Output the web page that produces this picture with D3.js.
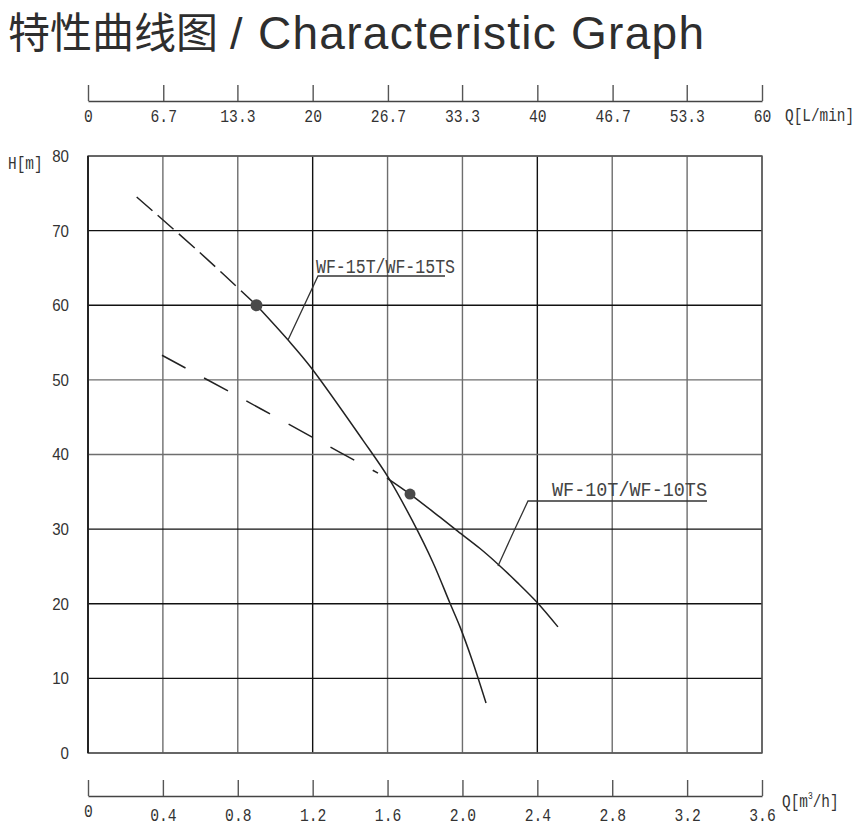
<!DOCTYPE html>
<html>
<head>
<meta charset="utf-8">
<script src="https://cdn.jsdelivr.net/npm/d3@7/dist/d3.min.js"></script>
<style>
  html, body { margin: 0; padding: 0; background: #fff; }
  svg { display: block; }
</style>
</head>
<body>
<svg id="chart" width="861" height="834"></svg>
<script>
// ---------------- data ----------------
const titleCN = "特性曲线图";
const titleEN = "Characteristic Graph";

const flowM3hTicks = [0, 0.4, 0.8, 1.2, 1.6, 2.0, 2.4, 2.8, 3.2, 3.6];
const flowM3hLabels = ["0", "0.4", "0.8", "1.2", "1.6", "2.0", "2.4", "2.8", "3.2", "3.6"];
const flowLminTicks = [0, 6.7, 13.3, 20, 26.7, 33.3, 40, 46.7, 53.3, 60];
const flowLminLabels = ["0", "6.7", "13.3", "20", "26.7", "33.3", "40", "46.7", "53.3", "60"];
const headTicks = [0, 10, 20, 30, 40, 50, 60, 70, 80];

// WF-15T / WF-15TS : [Q m3/h, H m]
const curve15Dashed = [[0.26, 74.5], [0.6, 67.0], [0.9, 60.0]];
const curve15Solid = [[0.9, 60.0], [1.07, 55.3], [1.19, 51.7], [1.469, 41.9], [1.602, 37.0],
  [1.731, 31.2], [1.843, 25.5], [1.933, 20.1], [1.987, 16.9], [2.051, 12.5], [2.126, 6.7]];
const point15 = [0.9, 60.0];

// WF-10T / WF-10TS
const curve10Dashed = [[0.395, 53.3], [0.8, 47.8], [1.2, 42.3], [1.549, 37.5]];
const curve10Solid = [[1.597, 36.85], [1.72, 34.7], [1.88, 31.6], [1.976, 29.7], [2.094, 27.4],
  [2.19, 25.3], [2.291, 22.9], [2.398, 20.2], [2.51, 16.9]];
const point10 = [1.72, 34.7];

const label15 = "WF-15T/WF-15TS";
const label10 = "WF-10T/WF-10TS";

const darkGridX = [0, 1.2, 2.4];
const darkGridY = [70, 60, 30, 20, 10];

// ---------------- layout ----------------
const L = 88, R = 762, T = 156, B = 753;
const svg = d3.select("#chart");

const x = d3.scaleLinear().domain([0, 3.6]).range([L, R]);
const xL = d3.scaleLinear().domain([0, 60]).range([L, R]);
const y = d3.scaleLinear().domain([0, 80]).range([B, T]);

const monoFont = "'Liberation Mono', 'DejaVu Sans Mono', monospace";
const textColor = "#333";

// ---------------- title ----------------
svg.append("text").attr("x", 8).attr("y", 48).attr("fill", "#2e2e2e")
  .attr("font-family", "'Noto Sans CJK SC', sans-serif").attr("font-size", 42)
  .text(titleCN);
svg.append("text").attr("x", 230).attr("y", 49).attr("fill", "#2e2e2e")
  .attr("font-family", "'Liberation Sans', Arial, sans-serif").attr("font-size", 45)
  .text("/");
svg.append("text").attr("x", 258).attr("y", 49).attr("fill", "#2e2e2e")
  .attr("font-family", "'Liberation Sans', Arial, sans-serif").attr("font-size", 46)
  .attr("textLength", 446).attr("lengthAdjust", "spacing")
  .text(titleEN);

// ---------------- grid ----------------
const grid = svg.append("g");
grid.selectAll("line.v").data(flowM3hTicks).join("line")
  .attr("x1", d => x(d)).attr("x2", d => x(d)).attr("y1", T).attr("y2", B)
  .attr("stroke", d => darkGridX.includes(d) ? "#111" : "#6e6e6e")
  .attr("stroke-width", 1.4);
grid.selectAll("line.h").data(headTicks).join("line")
  .attr("x1", L).attr("x2", R).attr("y1", d => y(d)).attr("y2", d => y(d))
  .attr("stroke", d => darkGridY.includes(d) ? "#111" : "#6e6e6e")
  .attr("stroke-width", 1.4);

// ---------------- axes ----------------
function styleAxis(g, charW) {
  g.select(".domain").attr("stroke", "#444").attr("stroke-width", 1.4);
  g.selectAll(".tick line").attr("stroke", "#555").attr("stroke-width", 1.4);
  g.selectAll(".tick text")
    .attr("fill", textColor)
    .attr("font-family", monoFont)
    .attr("font-size", 19)
    .attr("textLength", function () { return this.textContent.length * charW; })
    .attr("lengthAdjust", "spacingAndGlyphs");
}

// top axis (L/min)
const topAxis = svg.append("g").attr("transform", `translate(0,101)`)
  .call(d3.axisBottom(xL).tickValues(flowLminTicks)
    .tickFormat((d, i) => flowLminLabels[i])
    .tickSizeInner(-16).tickSizeOuter(0).tickPadding(8));
styleAxis(topAxis, 8.8);

// bottom axis (m3/h)
const botAxis = svg.append("g").attr("transform", `translate(0,796)`)
  .call(d3.axisBottom(x).tickValues(flowM3hTicks)
    .tickFormat((d, i) => flowM3hLabels[i])
    .tickSizeInner(-16).tickSizeOuter(0).tickPadding(12));
styleAxis(botAxis, 8.8);
botAxis.selectAll(".tick text").filter((d, i) => i === 0).attr("y", 8);

// left axis (H)
const leftAxis = svg.append("g").attr("transform", `translate(${L},0)`)
  .call(d3.axisLeft(y).tickValues(headTicks).tickSize(0).tickPadding(19));
leftAxis.select(".domain").remove();
leftAxis.selectAll(".tick text").attr("fill", textColor)
  .attr("font-family", "'Liberation Sans', Arial, sans-serif").attr("font-size", 17)
  .attr("textLength", function () { return this.textContent.length * 8.4; })
  .attr("lengthAdjust", "spacingAndGlyphs");

// axis titles (horizontally condensed like the original narrow font)
function axisTitle(txt, xx, yy, sx) {
  return svg.append("g").attr("transform", `translate(${xx},${yy}) scale(${sx},1)`)
    .append("text").attr("x", 0).attr("y", 0).text(txt)
    .attr("fill", textColor).attr("font-family", monoFont).attr("font-size", 18);
}
axisTitle("Q[L/min]", 785, 121, 0.8);
axisTitle("H[m]", 8, 169, 0.8);
const qm = axisTitle("", 782, 807, 0.8);
qm.append("tspan").text("Q[m");
qm.append("tspan").text("3").attr("font-size", 10).attr("dy", -8);
qm.append("tspan").text("/h]").attr("dy", 8);

// frame
svg.append("rect").attr("x", L).attr("y", T).attr("width", R - L).attr("height", B - T)
  .attr("fill", "none").attr("stroke", "#555").attr("stroke-width", 1.4);
svg.append("line").attr("x1", L).attr("x2", L).attr("y1", T).attr("y2", B)
  .attr("stroke", "#111").attr("stroke-width", 1.4);

// ---------------- curves ----------------
const line = d3.line().x(d => x(d[0])).y(d => y(d[1])).curve(d3.curveCatmullRom.alpha(0.5));
const curves = svg.append("g").attr("fill", "none").attr("stroke", "#222").attr("stroke-width", 1.5);
curves.append("path").attr("d", line(curve15Dashed)).attr("stroke-dasharray", "21 7");
curves.append("path").attr("d", line(curve15Solid));
curves.append("path").attr("d", line(curve10Dashed)).attr("stroke-dasharray", "27 21");
curves.append("path").attr("d", line(curve10Solid));

svg.selectAll("circle.pt").data([point15, point10]).join("circle")
  .attr("cx", d => x(d[0])).attr("cy", d => y(d[1]))
  .attr("r", (d, i) => i === 0 ? 6 : 5.5).attr("fill", "#4a4a4a");

// ---------------- annotations ----------------
function annotate(txt, tx, ty, tw, leader) {
  svg.append("text").attr("x", tx).attr("y", ty).text(txt)
    .attr("fill", "#444").attr("font-family", monoFont).attr("font-size", 20)
    .attr("textLength", tw).attr("lengthAdjust", "spacingAndGlyphs");
  svg.append("path").attr("d", d3.line()(leader))
    .attr("fill", "none").attr("stroke", "#333").attr("stroke-width", 1.3);
}
annotate(label15, 316, 273, 139, [[445, 276], [318, 276], [288, 340]]);
annotate(label10, 552, 496, 155, [[707, 501], [528, 501], [513, 533], [498, 566]]);
</script>
</body>
</html>
